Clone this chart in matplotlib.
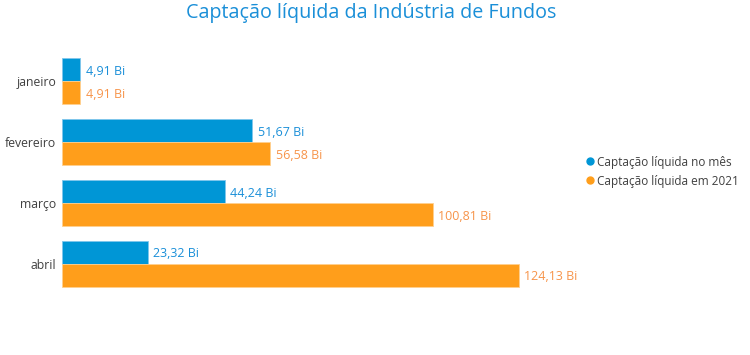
import numpy as np
import matplotlib.pyplot as plt
from matplotlib.lines import Line2D

plt.rcParams['font.family'] = ['Open Sans', 'DejaVu Sans']

# dados
meses = ['janeiro', 'fevereiro', 'março', 'abril']
mes = [4.91, 51.67, 44.24, 23.32]
ano = [4.91, 56.58, 100.81, 124.13]
nomes = ['Captação líquida no mês', 'Captação líquida em 2021']

azul = '#0096d6'
laranja = '#ff9e1b'

W, H = 750, 355
fig = plt.figure(figsize=(W / 100, H / 100), dpi=100)
ax = fig.add_axes([62 / W, 1 - 294 / H, 515 / W, 243 / H])

y = np.arange(len(meses))
h = 0.378
ax.barh(y - h / 2, mes, height=h, color=azul, edgecolor='#7fc6ec', linewidth=0.6)
ax.barh(y + h / 2, ano, height=h, color=laranja, edgecolor='#ffd08f', linewidth=0.6)

for i in range(len(meses)):
    ax.text(mes[i] + 1.5, y[i] - h / 2 + 0.03, f'{mes[i]:.2f} Bi'.replace('.', ','),
            va='center', ha='left', fontsize=9, color='#1a8fd8')
    ax.text(ano[i] + 1.5, y[i] + h / 2 + 0.03, f'{ano[i]:.2f} Bi'.replace('.', ','),
            va='center', ha='left', fontsize=9, color='#f7944a')

ax.set_xlim(0, 140)
ax.set_ylim(len(meses) - 0.5, -0.5)
ax.set_yticks(y)
ax.set_yticklabels(meses, fontsize=8.8, color='#404040')
ax.tick_params(axis='y', length=0, pad=4)
ax.set_xticks([])
for s in ax.spines.values():
    s.set_visible(False)

fig.text(371 / W, 1 - 13 / H, 'Captação líquida da Indústria de Fundos',
         ha='center', va='center', fontsize=14.2, color='#1a8fd8')

handles = [Line2D([], [], marker='o', ls='', color=azul, markersize=5),
           Line2D([], [], marker='o', ls='', color=laranja, markersize=5)]
fig.legend(handles, nomes, loc='upper left', bbox_to_anchor=(573 / W, 1 - 145 / H),
           frameon=False, fontsize=8.5, handletextpad=0.1, labelspacing=0.5,
           labelcolor='#404040', handlelength=1.0)

fig.savefig('out.png', dpi=100)
